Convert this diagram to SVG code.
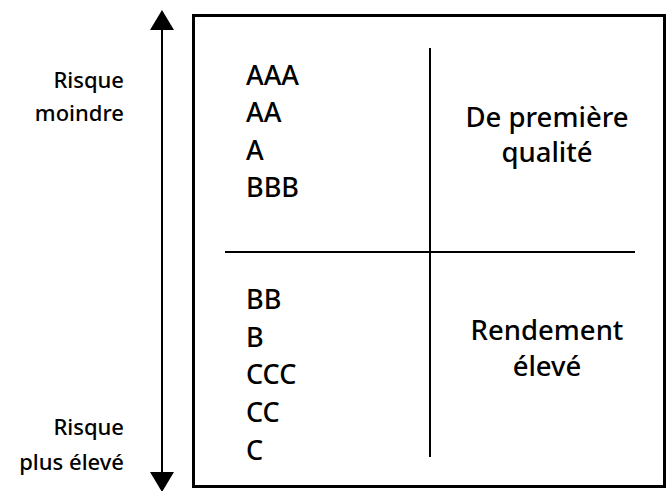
<svg xmlns="http://www.w3.org/2000/svg" width="670" height="491" viewBox="0 0 670 491">
<style>
text{font-family:"Noto Sans","Open Sans","DejaVu Sans",sans-serif;font-weight:500;fill:#000}
.r{font-size:27px}
.q{font-size:27.5px;text-anchor:middle}
.l{font-size:22px;text-anchor:end}
.ln{stroke:#000;fill:none}
</style>
<defs>
<marker id="ah" markerUnits="userSpaceOnUse" viewBox="0 0 20 24" markerWidth="20" markerHeight="24" refX="0" refY="12" orient="auto-start-reverse">
<path d="M0,0 L20,12 L0,24 Z" fill="#000"/>
</marker>
</defs>
<g id="connectors">
<line class="ln" x1="162" y1="30" x2="162" y2="472" stroke-width="2" marker-start="url(#ah)" marker-end="url(#ah)"/>
</g>
<g id="axis-labels">
<text class="l" x="124" y="88">Risque</text>
<text class="l" x="124" y="121">moindre</text>
<text class="l" x="124" y="435">Risque</text>
<text class="l" x="124" y="470">plus élevé</text>
</g>
<g id="grid">
<rect class="ln" x="193.5" y="15.5" width="471" height="471" stroke-width="3"/>
<line class="ln" x1="430" y1="48" x2="430" y2="457" stroke-width="2"/>
<line class="ln" x1="225" y1="252" x2="635" y2="252" stroke-width="2"/>
</g>
<g id="top-ratings">
<text class="r" x="246" y="85">AAA</text>
<text class="r" x="246" y="122">AA</text>
<text class="r" x="246" y="160">A</text>
<text class="r" x="246" y="197">BBB</text>
</g>
<g id="top-label">
<text class="q" x="547" y="127">De première</text>
<text class="q" x="547" y="162">qualité</text>
</g>
<g id="bottom-ratings">
<text class="r" x="246" y="309">BB</text>
<text class="r" x="246" y="347">B</text>
<text class="r" x="246" y="384">CCC</text>
<text class="r" x="246" y="422">CC</text>
<text class="r" x="246" y="460">C</text>
</g>
<g id="bottom-label">
<text class="q" x="547" y="340">Rendement</text>
<text class="q" x="547" y="376">élevé</text>
</g>
</svg>
